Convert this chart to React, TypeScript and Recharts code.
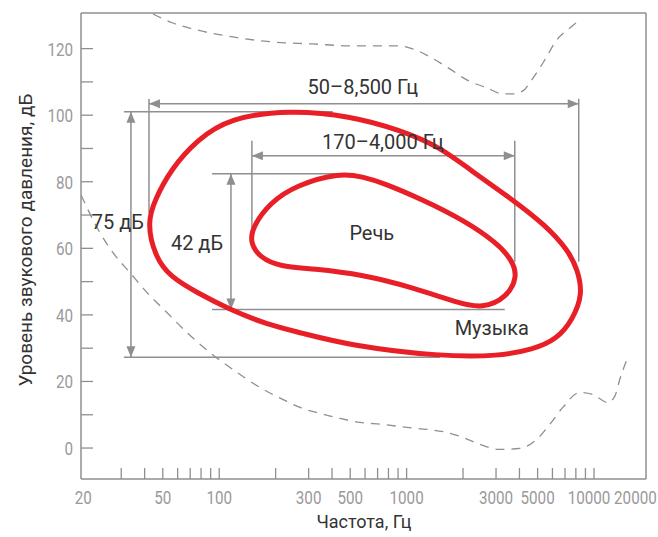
import {
  ComposedChart,
  Label,
  Line,
  ReferenceDot,
  ReferenceLine,
  XAxis,
  YAxis,
} from "recharts";

// frequency (Hz), level (dB)
const MUSIC: [number, number][] = [
  [238, 101.6], [114, 99.2], [76, 92.6], [55, 83.6], [45.4, 74.6], [41.2, 67.7],
  [45.4, 57.5], [54.6, 51.5], [76, 46.7], [114, 41.6], [180, 37.1], [270, 34.7],
  [498, 30.8], [1504, 27.5], [3142, 27.6], [4712, 29.6], [6327, 32.6], [7700, 38.6],
  [8706, 46.1], [8188, 53.6], [7240, 59.6], [5461, 67.1], [3686, 74.6], [2174, 83.6],
  [1504, 90.5], [920, 95.6], [498, 99.8],
];

const SPEECH: [number, number][] = [
  [440, 82.7], [260, 79.1], [186, 73.7], [151, 66.5], [146, 61.7], [165, 57.2],
  [211, 54.5], [316, 53.9], [584, 52.1], [1080, 48.2], [1853, 43.7], [2550, 41.9],
  [3424, 45.2], [3920, 51.5], [3640, 56.6], [3029, 61.7], [1994, 68.6], [1221, 74.6],
  [747, 79.7], [584, 81.5],
];

const PAIN: [number, number][] = [
  [44.3, 130.4], [56.6, 127.7], [76.1, 125.6], [118.4, 123.5], [193.4, 122.0],
  [316, 121.4], [517, 120.8], [920, 120.8], [1080, 119.9], [1363, 117.2],
  [1700, 113.9], [2095, 110.6], [2678, 108.2], [3261, 106.4], [3686, 106.4],
  [4168, 107.3], [4654, 110.6], [5461, 116.6], [6327, 122.6], [7422, 126.2],
  [8391, 128.6],
];

const HEARING: [number, number][] = [
  [18.3, 76], [23.1, 64.7], [27.1, 58.7], [33.4, 52.7], [41.2, 46.7], [52.6, 40.7],
  [67.3, 34.7], [89.2, 28.7], [118.4, 23.6], [165, 18.2], [229.7, 14.0], [269.5, 12.2],
  [344.5, 10.4], [440, 8.9], [563, 7.7], [747, 7.1], [1003, 6.2], [1282, 5.6],
  [1639, 4.7], [1994, 3.2], [2458, 1.1], [3142, -0.4], [4017, -0.1], [4949, 2.6],
  [5804, 7.1], [6812, 12.2], [8391, 16.7], [9845, 16.1], [11836, 13.7], [12896, 15.5],
  [13718, 20.6], [15129, 27.2],
];

// dimension lines with arrows: f1, db1, f2, db2
const SPANS: [number, number, number, number][] = [
  [42.2, 103.4, 8288, 103.4],
  [149.4, 87.8, 3777, 87.8],
  [33.8, 101.0, 33.8, 27.3],
  [115.5, 82.4, 115.5, 41.6],
];

// extension lines: f1, db1, f2, db2
const GUIDES: [number, number, number, number][] = [
  [42.2, 104.9, 42.2, 70.7],
  [8288, 104.9, 8288, 56],
  [149.4, 92.3, 149.4, 65.0],
  [3777, 92.3, 3777, 56.0],
  [31.0, 101.0, 404, 101.0],
  [31.0, 27.3, 1504, 27.3],
  [91.5, 82.4, 457, 82.4],
  [91.5, 41.6, 3341, 41.6],
];

const NOTES: [string, number, number][] = [
  ["50–8,500 Гц", 584, 108.5],
  ["170–4,000 Гц", 747, 92.0],
  ["75 дБ", 28.8, 68.0],
  ["42 дБ", 76.1, 61.7],
  ["Речь", 652, 64.7],
  ["Музыка", 2848, 36.2],
];

const X_LABELS = [20, 50, 100, 300, 500, 1000, 3000, 5000, 10000, 20000];
const X_MINOR = [
  30, 40, 50, 60, 70, 80, 90, 100,
  200, 300, 400, 500, 600, 700, 800, 900, 1000,
  2000, 3000, 4000, 5000, 6000, 7000, 8000, 9000, 10000,
];
const Y_TICKS = [0, 10, 20, 30, 40, 50, 60, 70, 80, 90, 100, 110, 120];

const X_DOMAIN = [18.3, 18940];
const Y_DOMAIN = [-9.3, 130.7];

const toRows = (pts: [number, number][]) => pts.map(([f, db]) => ({ f, db }));

const GRAY = "#8f8f8f";
const RED = "#e81f27";
const TEXT_FONT = "Roboto, sans-serif";

const xTicks = Array.from(new Set([...X_LABELS, ...X_MINOR])).sort((a, b) => a - b);

// label nudges so the end labels stay inside the frame
const X_NUDGE: Record<number, number> = { 20: -5, 10000: -5, 20000: -15 };

// narrow tick numerals, like the condensed face of the original
function Num({ x, y, anchor, v }: { x: number; y: number; anchor: string; v: number }) {
  return (
    <text
      transform={`translate(${x} ${y}) scale(0.8 1)`}
      textAnchor={anchor}
      fill="#9a9a9a"
      fontSize={19}
      fontFamily={TEXT_FONT}
    >
      {v}
    </text>
  );
}

function XTick(props: any) {
  const { x, y, payload } = props;
  const v = payload.value;
  return (
    <g>
      {X_MINOR.includes(v) && (
        <line x1={x} y1={y} x2={x} y2={y - 11} stroke={GRAY} strokeWidth={1.3} />
      )}
      {X_LABELS.includes(v) && (
        <Num x={x + (X_NUDGE[v] || 0)} y={y + 25} anchor="middle" v={v} />
      )}
    </g>
  );
}

function YTick(props: any) {
  const { x, y, payload } = props;
  const v = payload.value;
  return (
    <g>
      <line x1={x} y1={y} x2={x + 12} y2={y} stroke={GRAY} strokeWidth={1.3} />
      {v % 20 === 0 && <Num x={x - 8} y={y + 7} anchor="end" v={v} />}
    </g>
  );
}

function arrowHead(x: number, y: number, a: number) {
  const L = 11;
  const W = 4.5;
  const bx = x - L * Math.cos(a);
  const by = y - L * Math.sin(a);
  const s = Math.sin(a);
  const c = Math.cos(a);
  return `${x},${y} ${bx + W * s},${by - W * c} ${bx - W * s},${by + W * c}`;
}

function ArrowSeg(props: any) {
  const { x1, y1, x2, y2 } = props;
  const a = Math.atan2(y2 - y1, x2 - x1);
  return (
    <g>
      <line x1={x1} y1={y1} x2={x2} y2={y2} stroke={GRAY} strokeWidth={1.5} />
      <polygon points={arrowHead(x2, y2, a)} fill={GRAY} />
      <polygon points={arrowHead(x1, y1, a + Math.PI)} fill={GRAY} />
    </g>
  );
}

export default function App() {
  return (
    <div style={{ position: "absolute", left: 0, top: 0, background: "#fff" }}>
      <ComposedChart
        width={658}
        height={537}
        margin={{ top: 13, right: 12, bottom: 0, left: 0 }}
      >
        <XAxis
          dataKey="f"
          type="number"
          scale="log"
          domain={X_DOMAIN}
          allowDataOverflow
          ticks={xTicks}
          interval={0}
          tick={<XTick />}
          tickLine={false}
          tickSize={0}
          tickMargin={0}
          height={58}
          stroke={GRAY}
          strokeWidth={1.5}
        >
          <Label
            content={() => (
              <text
                x={364}
                y={528}
                textAnchor="middle"
                fill="#333"
                fontSize={18}
                fontFamily={TEXT_FONT}
              >
                Частота, Гц
              </text>
            )}
          />
        </XAxis>
        <YAxis
          type="number"
          domain={Y_DOMAIN}
          allowDataOverflow
          ticks={Y_TICKS}
          interval={0}
          tick={<YTick />}
          tickLine={false}
          tickSize={0}
          tickMargin={0}
          width={81}
          stroke={GRAY}
          strokeWidth={1.5}
        >
          <Label
            content={() => (
              <text
                x={25}
                y={240}
                transform="rotate(-90 25 240)"
                textAnchor="middle"
                dominantBaseline="central"
                fill="#333"
                fontSize={19}
                fontFamily={TEXT_FONT}
              >
                Уровень звукового давления, дБ
              </text>
            )}
          />
        </YAxis>

        <ReferenceLine y={Y_DOMAIN[1]} stroke={GRAY} strokeWidth={1.5} />
        <ReferenceLine x={X_DOMAIN[1]} stroke={GRAY} strokeWidth={1.5} />

        {GUIDES.map(([f1, d1, f2, d2], i) => (
          <ReferenceLine
            key={`g${i}`}
            segment={[{ x: f1, y: d1 }, { x: f2, y: d2 }]}
            stroke={GRAY}
            strokeWidth={1.5}
          />
        ))}
        {SPANS.map(([f1, d1, f2, d2], i) => (
          <ReferenceLine
            key={`s${i}`}
            segment={[{ x: f1, y: d1 }, { x: f2, y: d2 }]}
            shape={ArrowSeg}
          />
        ))}

        <Line
          data={toRows(PAIN)}
          dataKey="db"
          type="monotone"
          stroke={GRAY}
          strokeWidth={1.3}
          strokeDasharray="9 7"
          dot={false}
          activeDot={false}
          isAnimationActive={false}
        />
        <Line
          data={toRows(HEARING)}
          dataKey="db"
          type="monotone"
          stroke={GRAY}
          strokeWidth={1.3}
          strokeDasharray="9 7"
          dot={false}
          activeDot={false}
          isAnimationActive={false}
        />
        <Line
          data={toRows(MUSIC)}
          dataKey="db"
          type="basisClosed"
          stroke={RED}
          strokeWidth={5}
          dot={false}
          activeDot={false}
          isAnimationActive={false}
        />
        <Line
          data={toRows(SPEECH)}
          dataKey="db"
          type="basisClosed"
          stroke={RED}
          strokeWidth={5}
          dot={false}
          activeDot={false}
          isAnimationActive={false}
        />

        {NOTES.map(([text, f, db]) => (
          <ReferenceDot
            key={text}
            x={f}
            y={db}
            r={0}
            fill="none"
            stroke="none"
            label={{
              value: text,
              position: "center",
              fill: "#333",
              fontSize: 20,
              fontFamily: TEXT_FONT,
            }}
          />
        ))}
      </ComposedChart>
    </div>
  );
}
